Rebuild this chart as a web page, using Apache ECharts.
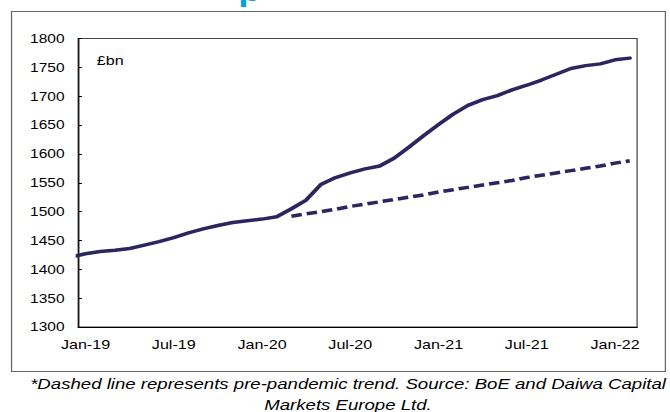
<!DOCTYPE html>
<html>
<head>
<meta charset="utf-8">
<script src="https://cdn.jsdelivr.net/npm/echarts@6/dist/echarts.min.js"></script>
<style>
  html, body { margin: 0; padding: 0; background: #fff; overflow: hidden; }
  /* the source picture is stretched sideways, so draw narrow and widen it */
  #chart { width: 540px; height: 412px; transform: scaleX(1.2407); transform-origin: 0 0; }
</style>
</head>
<body>
<div id="chart"></div>
<script>
// month-end stocks, £bn
var months = ['Dec-18',
  'Jan-19', 'Feb-19', 'Mar-19', 'Apr-19', 'May-19', 'Jun-19', 'Jul-19', 'Aug-19', 'Sep-19', 'Oct-19', 'Nov-19', 'Dec-19',
  'Jan-20', 'Feb-20', 'Mar-20', 'Apr-20', 'May-20', 'Jun-20', 'Jul-20', 'Aug-20', 'Sep-20', 'Oct-20', 'Nov-20', 'Dec-20',
  'Jan-21', 'Feb-21', 'Mar-21', 'Apr-21', 'May-21', 'Jun-21', 'Jul-21', 'Aug-21', 'Sep-21', 'Oct-21', 'Nov-21', 'Dec-21',
  'Jan-22', 'Feb-22']
var actual = [1421,
  1427, 1431, 1433, 1436, 1442, 1448, 1455, 1463, 1470, 1476, 1481, 1484,
  1487, 1491, 1505, 1520, 1547, 1559, 1567, 1574, 1579, 1593, 1612, 1632,
  1651, 1669, 1684, 1694, 1701, 1711, 1719, 1728, 1738, 1748, 1753, 1756,
  1763, 1766]
// pre-pandemic trend, from Mar-20
var trend = [null,
  null, null, null, null, null, null, null, null, null, null, null, null,
  null, null, 1492, 1496, 1500, 1504, 1509, 1513, 1517, 1521, 1525, 1529,
  1534, 1538, 1542, 1546, 1550, 1554, 1559, 1563, 1567, 1571, 1575, 1579,
  1584, 1588]
var xTickLabels = ['Jan-19', 'Jul-19', 'Jan-20', 'Jul-20', 'Jan-21', 'Jul-21', 'Jan-22']
var yTicks = [1300, 1350, 1400, 1450, 1500, 1550, 1600, 1650, 1700, 1750, 1800]

var navy = '#2c2660'
var font = 'Liberation Sans, Arial, sans-serif'

var chart = echarts.init(document.getElementById('chart'), null, { renderer: 'svg' })

var toPairs = function(arr) {
  return arr.map(function(v, i) { return [i, v] })
}

var option = {
  animation: false,
  grid: {
    left: 63,
    right: 26.5,
    top: 38.5,
    bottom: 85,
    show: true,
    borderColor: '#444',
    borderWidth: 1
  },
  xAxis: {
    type: 'value',
    min: 0.5,
    max: 38.5,
    splitLine: { show: false },
    axisLine: { lineStyle: { color: '#000', width: 1 } },
    axisTick: { show: false },
    axisLabel: {
      customValues: xTickLabels.map(function(l) { return months.indexOf(l) }),
      formatter: function(v) { return months[v] },
      color: '#000',
      fontFamily: font,
      fontSize: 13,
      margin: 11
    }
  },
  yAxis: {
    type: 'value',
    min: yTicks[0],
    max: yTicks[yTicks.length - 1],
    interval: 50,
    splitLine: { show: false },
    axisLine: { show: true, lineStyle: { color: '#000', width: 1 } },
    axisTick: { show: true, inside: true, length: 3, lineStyle: { color: '#000' } },
    axisLabel: {
      formatter: function(v) { return String(v) },
      color: '#000',
      fontFamily: font,
      fontSize: 12.5,
      margin: 11
    }
  },
  series: [
    {
      name: 'Actual',
      type: 'line',
      data: toPairs(actual),
      showSymbol: false,
      clip: true,
      lineStyle: { color: navy, width: 3.5, cap: 'round', join: 'round' }
    },
    {
      name: 'Pre-pandemic trend',
      type: 'line',
      data: toPairs(trend),
      showSymbol: false,
      clip: true,
      lineStyle: { color: navy, width: 3.5, type: [8.5, 4] }
    }
  ],
  graphic: [
    {
      type: 'rect',
      shape: { x: 9.3, y: 11.5, width: 527, height: 360 },
      style: { fill: 'none', stroke: '#666', lineWidth: 1 },
      silent: true
    },
    {
      type: 'text',
      x: 78,
      y: 54,
      style: { text: '£bn', fill: '#000', font: '13px ' + font }
    },
    {
      // tail of the title, cut off above the picture
      type: 'text',
      x: 192,
      y: -24.5,
      style: { text: 'p', fill: '#00a3e4', font: 'bold 30px ' + font }
    },
    {
      type: 'text',
      x: 280.5,
      y: 374,
      style: {
        text: '*Dashed line represents pre-pandemic trend. Source: BoE and Daiwa Capital\nMarkets Europe Ltd.',
        fill: '#000',
        font: 'italic 15px ' + font,
        textAlign: 'center',
        lineHeight: 20.5
      }
    }
  ]
}

chart.setOption(option)
</script>
</body>
</html>
